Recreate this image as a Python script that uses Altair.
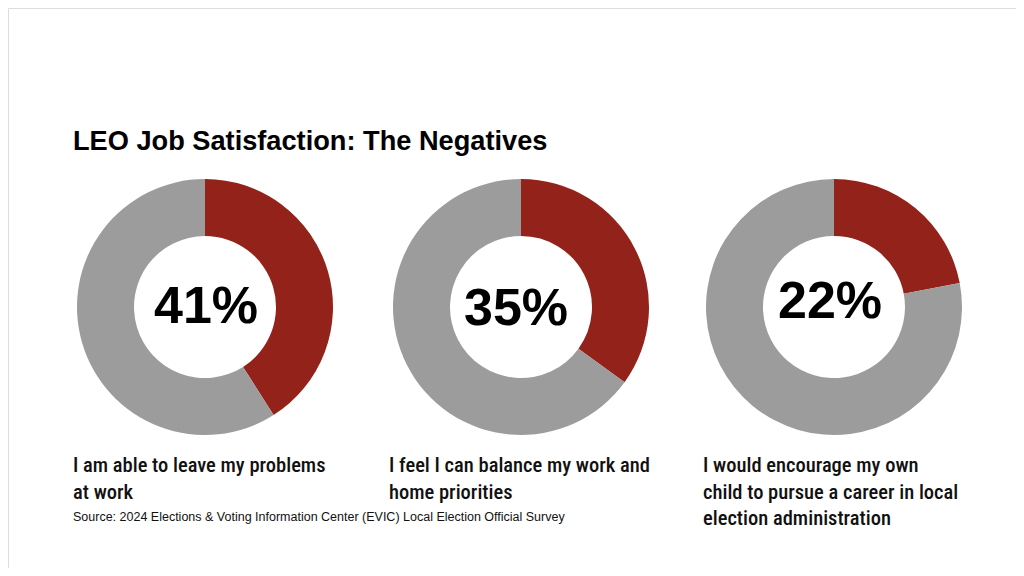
import altair as alt
import pandas as pd

title_text = "LEO Job Satisfaction: The Negatives"
questions = [
    "I am able to leave my problems\nat work",
    "I feel I can balance my work and\nhome priorities",
    "I would encourage my own\nchild to pursue a career in local\nelection administration",
]
agree_pct = [41, 35, 22]
pct_labels = ["41%", "35%", "22%"]
source_text = "Source: 2024 Elections & Voting Information Center (EVIC) Local Election Official Survey"

RED = "#93231a"
GRAY = "#9c9c9c"

# layout (chart coordinates)
centers_x = [197, 513, 826]
center_y = 299
label_x = [198, 508, 822]
label_y = [315, 317, 310]
caption_x = [65, 381, 695]
caption_y = 464

layers = []
for i, q in enumerate(questions):
    df = pd.DataFrame({
        "segment": ["Agree", "Other"],
        "value": [agree_pct[i], 100 - agree_pct[i]],
        "order": [1, 2],
    })
    arc = alt.Chart(df).mark_arc(innerRadius=71, outerRadius=128, strokeWidth=0).encode(
        theta=alt.Theta("value:Q", stack=True),
        color=alt.Color("segment:N", scale=alt.Scale(domain=["Agree", "Other"], range=[RED, GRAY]), legend=None),
        order=alt.Order("order:Q"),
        x=alt.value(centers_x[i]),
        y=alt.value(center_y),
    )
    layers.append(arc)

    lab = alt.Chart(pd.DataFrame({"t": [pct_labels[i]]})).mark_text(
        font="Liberation Sans", fontWeight="bold", fontSize=52, align="center",
        baseline="alphabetic", color="#000000",
    ).encode(text="t:N", x=alt.value(label_x[i]), y=alt.value(label_y[i]))
    layers.append(lab)

    cap = alt.Chart(pd.DataFrame({"t": [q]})).mark_text(
        font="Roboto Condensed, Liberation Sans Narrow, DejaVu Sans Condensed, sans-serif",
        fontWeight=500, fontSize=20.5, align="left", baseline="alphabetic",
        lineBreak="\n", lineHeight=26.5, color="#111111",
    ).encode(text="t:N", x=alt.value(caption_x[i]), y=alt.value(caption_y))
    layers.append(cap)

title = alt.Chart(pd.DataFrame({"t": [title_text]})).mark_text(
    font="Liberation Sans", fontWeight="bold", fontSize=27.2, align="left",
    baseline="alphabetic", color="#000000",
).encode(text="t:N", x=alt.value(65), y=alt.value(142))

source = alt.Chart(pd.DataFrame({"t": [source_text]})).mark_text(
    font="Liberation Sans", fontSize=12.5, align="left", baseline="alphabetic", color="#111111",
).encode(text="t:N", x=alt.value(65), y=alt.value(513))

chart = alt.layer(title, source, *layers).properties(
    width=1008, height=560, autosize="none", padding=0,
).configure_view(strokeWidth=0, strokeOpacity=0).configure(background="#ffffff")

chart.save("out.html", embed_options={"renderer": "svg", "actions": False})
